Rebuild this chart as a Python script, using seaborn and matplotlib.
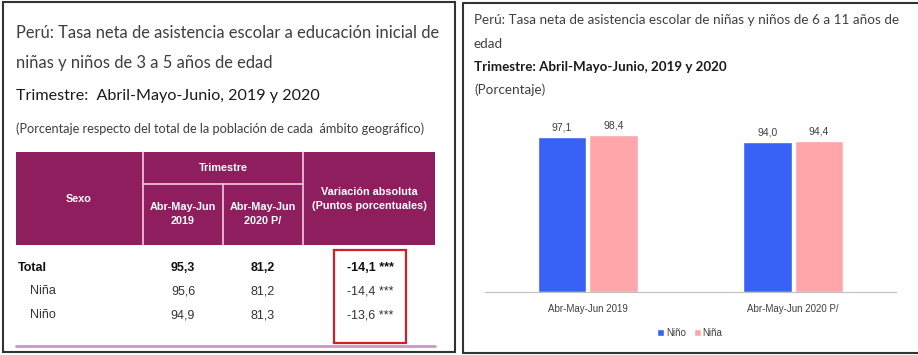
import pandas as pd
import matplotlib.pyplot as plt
import matplotlib.patches as mpatches
import seaborn as sns

# Data
sexo = ['Total', 'Niña', 'Niño']
tasa_2019 = [95.3, 95.6, 94.9]
tasa_2020 = [81.2, 81.2, 81.3]
variacion = [-14.1, -14.4, -13.6]

periodos = ['Abr-May-Jun 2019', 'Abr-May-Jun 2020 P/']
nino = [97.1, 94.0]
nina = [98.4, 94.4]

df = pd.DataFrame({
    'periodo': periodos * 2,
    'sexo': ['Niño'] * len(periodos) + ['Niña'] * len(periodos),
    'tasa': nino + nina,
})

def coma(v):
    return f"{v:.1f}".replace('.', ',')

sns.set_style("white")
plt.rcParams['font.family'] = ['Lato', 'DejaVu Sans']
narrow = ['Liberation Sans', 'DejaVu Sans']

W, H = 918, 355
fig = plt.figure(figsize=(W / 100, H / 100), dpi=100)
bg = fig.add_axes([0, 0, 1, 1])
bg.set_xlim(0, W)
bg.set_ylim(H, 0)
bg.axis('off')

# panel frames
bg.add_patch(mpatches.Rectangle((3, 2), 452, 350, fill=False, ec='#333333', lw=1.5))
bg.plot([463, 463], [3, 353], color='#333333', lw=1.5)
bg.plot([463, 918], [3, 3], color='#333333', lw=1.5)
bg.plot([463, 918], [353, 353], color='#333333', lw=1.5)

# ---- left panel: table ----
gris = '#3f3f3f'
bg.text(16, 33, 'Perú: Tasa neta de asistencia escolar a educación inicial de', fontsize=11.9, color=gris, va='center')
bg.text(16, 63, 'niñas y niños de 3 a 5 años de edad', fontsize=11.9, color=gris, va='center')
bg.text(16, 96, 'Trimestre:  Abril-Mayo-Junio, 2019 y 2020', fontsize=11.6, color='#1a1a1a', va='center')
bg.text(16, 129, '(Porcentaje respecto del total de la población de cada  ámbito geográfico)',
        fontsize=9.2, color=gris, va='center')

morado = '#8e1e5e'
sep = '#f3c9df'
bg.add_patch(mpatches.Rectangle((16, 152), 419, 93, fc=morado, ec='none'))
for x in [143, 303]:
    bg.plot([x, x], [152, 245], color=sep, lw=1.2)
bg.plot([223, 223], [184, 245], color=sep, lw=1.2)
bg.plot([143, 303], [184, 184], color=sep, lw=1.2)

hk = dict(color='white', fontweight='bold', fontsize=7.8, family=narrow, ha='center', va='center')
bg.text(79, 199, 'Sexo', **hk)
bg.text(223, 168, 'Trimestre', **hk)
bg.text(183, 214, 'Abr-May-Jun\n2019', linespacing=1.6, **hk)
bg.text(263, 214, 'Abr-May-Jun\n2020 P/', linespacing=1.6, **hk)
bg.text(369, 199, 'Variación absoluta\n(Puntos porcentuales)', linespacing=1.6, **hk)

filas_y = [268, 291, 315]
for i, (s, a, b, v) in enumerate(zip(sexo, tasa_2019, tasa_2020, variacion)):
    y = filas_y[i]
    w = 'bold' if i == 0 else 'normal'
    c = '#111111' if i == 0 else '#333333'
    rk = dict(fontsize=9, family=narrow, fontweight=w, color=c, va='center')
    bg.text(18 if i == 0 else 30, y, s, ha='left', **rk)
    bg.text(183, y, coma(a), ha='center', **rk)
    bg.text(263, y, coma(b), ha='center', **rk)
    bg.text(370, y, coma(v) + ' ***', ha='center', **rk)

bg.add_patch(mpatches.Rectangle((334, 250), 72, 93, fill=False, ec='#d11f26', lw=1.6))
bg.plot([16, 435], [346, 346], color='#c79ac0', lw=2)

# ---- right panel: bar chart ----
bg.text(474, 20, 'Perú: Tasa neta de asistencia escolar de niñas y niños de 6 a 11 años de',
        fontsize=9.7, color=gris, va='center')
bg.text(474, 44, 'edad', fontsize=9.7, color=gris, va='center')
bg.text(474, 67, 'Trimestre: Abril-Mayo-Junio, 2019 y 2020', fontsize=9.6, color='#1a1a1a',
        fontweight='bold', va='center')
bg.text(474, 90, '(Porcentaje)', fontsize=9.7, color=gris, va='center')

x0, x1, base = 485, 896, 292
px_unit = 1.6
ymax = 110
ax = fig.add_axes([x0 / W, (H - base) / H, (x1 - x0) / W, ymax * px_unit / H])
ax.patch.set_alpha(0)
sns.barplot(data=df, x='periodo', y='tasa', hue='sexo', order=periodos,
            hue_order=['Niño', 'Niña'], palette=['#3762f5', '#ffa6ab'],
            width=0.5, gap=0.06, saturation=1, ax=ax)
ax.set_ylim(0, ymax)
ax.set_xlim(-0.5, 1.5)
for cont in ax.containers:
    ax.bar_label(cont, labels=[coma(b.get_height()) for b in cont], padding=3,
                 fontsize=7.5, color=gris, family=narrow)
ax.set_xlabel('')
ax.set_ylabel('')
ax.set_yticks([])
for s in ['top', 'right', 'left']:
    ax.spines[s].set_visible(False)
ax.spines['bottom'].set_color('#bfbfbf')
ax.tick_params(axis='x', length=0, pad=9, labelsize=7, labelcolor=gris)
for lab in ax.get_xticklabels():
    lab.set_family(narrow)
ax.set_xticks([-0.5, 0.5, 1.5], minor=True)
ax.tick_params(axis='x', which='minor', length=4, color='#bfbfbf')

ax.legend(loc='center', bbox_to_anchor=(690 / W, 1 - 333 / H), bbox_transform=fig.transFigure,
          ncol=2, frameon=False, handlelength=0.7, handleheight=0.7, handletextpad=0.2,
          columnspacing=0.8, prop={'family': narrow, 'size': 7}, labelcolor=gris)

fig.savefig('out.png', dpi=100)
